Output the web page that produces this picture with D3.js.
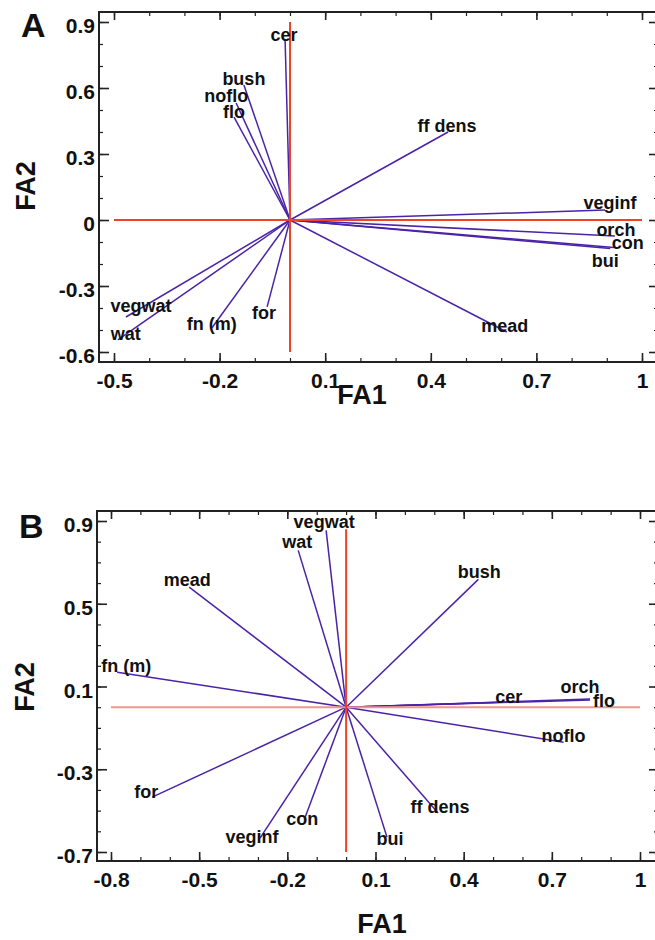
<!DOCTYPE html>
<html>
<head>
<meta charset="utf-8">
<script src="https://cdn.jsdelivr.net/npm/d3@7"></script>
<style>
  body { margin: 0; background: #fff; }
  text { font-family: "Liberation Sans", Arial, sans-serif; font-weight: bold; fill: #111; }
</style>
</head>
<body>
<div id="chart"></div>
<script>
// variables (same order in both panels)
var variables = ["cer", "bush", "noflo", "flo", "ff dens", "veginf", "orch", "con", "bui", "mead", "vegwat", "wat", "fn (m)", "for"];

// panel A loadings
var fa1A = [-0.014, -0.131, -0.153, -0.159, 0.449, 0.895, 0.923, 0.92, 0.91, 0.616, -0.466, -0.489, -0.222, -0.065];
var fa2A = [0.82, 0.614, 0.532, 0.468, 0.40, 0.045, -0.073, -0.125, -0.13, -0.509, -0.441, -0.545, -0.491, -0.395];

// panel B loadings
var fa1B = [0.55, 0.45, 0.74, 0.83, 0.313, -0.293, 0.83, -0.139, 0.139, -0.534, -0.068, -0.163, -0.779, -0.66];
var fa2B = [0.025, 0.618, -0.169, 0.035, -0.512, -0.633, 0.04, -0.531, -0.628, 0.58, 0.855, 0.758, 0.169, -0.435];

// tick labels
var xTicksA = [-0.5, -0.2, 0.1, 0.4, 0.7, 1];
var yTicksA = [-0.6, -0.3, 0, 0.3, 0.6, 0.9];
var xTicksB = [-0.8, -0.5, -0.2, 0.1, 0.4, 0.7, 1];
var yTicksB = [-0.7, -0.3, 0.1, 0.5, 0.9];

var width = 655, height = 940;
var lineColor = "#4b23a8";

var svg = d3.select("#chart").append("svg")
    .attr("width", width)
    .attr("height", height);

var fmt = function(d) { return String(+d.toFixed(1)); };

function minors(lo, hi) {
    return d3.range(Math.round(lo * 10), Math.round(hi * 10) + 1).map(function(i) { return i / 10; });
}

function drawPanel(p) {
    var x = d3.scaleLinear().domain(p.xDom).range(p.xRange);
    var y = d3.scaleLinear().domain(p.yDom).range(p.yRange);
    var g = svg.append("g");
    var box = p.box;

    // ticks (inward) on all four sides
    function axis(gen, tx, ty, vals, size, labels, pad) {
        var a = gen.tickValues(vals).tickSize(size).tickPadding(pad || 0)
            .tickFormat(labels ? fmt : "");
        var ag = g.append("g").attr("transform", "translate(" + tx + "," + ty + ")").call(a);
        ag.select(".domain").remove();
        ag.selectAll("line").attr("stroke", "#222").attr("stroke-width", size < -5 ? 1.6 : 1.2);
        ag.selectAll("text").attr("fill", "#111").style("font-size", "21px")
            .attr("font-family", null);
        return ag;
    }
    var xm = minors(p.xDom[0], p.xDom[1]), ym = minors(p.yDom[0], p.yDom[1]);
    axis(d3.axisBottom(x), 0, box.b, xm, -4, false);
    axis(d3.axisTop(x), 0, box.t, xm, -4, false);
    axis(d3.axisLeft(y), box.l, 0, ym, -4, false);
    axis(d3.axisRight(y), box.r, 0, ym, -4, false);
    axis(d3.axisBottom(x), 0, box.b, p.xTicks, -9, true, 11);
    axis(d3.axisTop(x), 0, box.t, p.xTicks, -8, false);
    var la = axis(d3.axisLeft(y), box.l, 0, p.yTicks, -10, true, 4);
    la.selectAll("text").attr("dy", "0.5em");
    axis(d3.axisRight(y), box.r, 0, p.yTicks, -9, false);

    // frame
    g.append("rect")
        .attr("x", box.l).attr("y", box.t)
        .attr("width", box.r - box.l).attr("height", box.b - box.t)
        .attr("fill", "none").attr("stroke", "#222").attr("stroke-width", 2);

    // vectors
    g.selectAll("line.vec")
        .data(p.fa1.map(function(v, i) { return { name: variables[i], x: v, y: p.fa2[i] }; }))
        .enter().append("line")
        .attr("class", "vec")
        .attr("x1", x(0)).attr("y1", y(0))
        .attr("x2", function(d) { return x(d.x); })
        .attr("y2", function(d) { return y(d.y); })
        .attr("stroke", lineColor)
        .attr("stroke-width", 1.5);

    // red reference axes
    g.append("line")
        .attr("x1", x(p.xDom[0])).attr("x2", x(p.xDom[1]))
        .attr("y1", y(0)).attr("y2", y(0))
        .attr("stroke", p.hColor).attr("stroke-width", 2);
    g.append("line")
        .attr("x1", x(0)).attr("x2", x(0))
        .attr("y1", y(p.vTop)).attr("y2", y(p.yDom[0]))
        .attr("stroke", "#ee4422").attr("stroke-width", 2);

    // labels
    g.selectAll("text.lab")
        .data(p.fa1.map(function(v, i) { return { name: variables[i], x: v, y: p.fa2[i] }; }))
        .enter().append("text")
        .attr("class", "lab")
        .attr("text-anchor", "middle")
        .style("font-size", "18px")
        .attr("x", function(d) { return x(d.x) + p.nudge[d.name][0]; })
        .attr("y", function(d) { return y(d.y) + p.nudge[d.name][1]; })
        .text(function(d) { return d.name; });

    // panel letter and axis titles
    g.append("text").attr("x", p.letterPos[0]).attr("y", p.letterPos[1])
        .style("font-size", "34px").text(p.letter);
    g.append("text").attr("x", p.fa1Pos[0]).attr("y", p.fa1Pos[1])
        .attr("text-anchor", "middle").style("font-size", "27px").text("FA1");
    g.append("text")
        .attr("transform", "translate(" + p.fa2Pos[0] + "," + p.fa2Pos[1] + ") rotate(-90)")
        .attr("text-anchor", "middle").style("font-size", "27px").text("FA2");
}

drawPanel({
    fa1: fa1A, fa2: fa2A,
    xDom: [-0.5, 1], xRange: [114, 642],
    yDom: [-0.6, 0.9], yRange: [352, 22],
    box: { l: 99, r: 658, t: 12, b: 362 },
    xTicks: xTicksA, yTicks: yTicksA,
    vTop: 0.9, hColor: "#ee4422",
    letter: "A", letterPos: [21, 37],
    fa1Pos: [362, 404], fa2Pos: [35, 186],
    nudge: {
        "cer": [-1, 1], "bush": [0, 0], "noflo": [-10, -1], "flo": [0, 1],
        "ff dens": [-1, 0], "veginf": [5, -1], "orch": [1, 0], "con": [14, 1],
        "bui": [-5, 18], "mead": [-2, 0], "vegwat": [15, -5], "wat": [8, 0],
        "fn (m)": [0, 2], "for": [-3, 12]
    }
});

drawPanel({
    fa1: fa1B, fa2: fa2B,
    xDom: [-0.8, 1], xRange: [111, 640],
    yDom: [-0.7, 0.9], yRange: [852, 521],
    box: { l: 97, r: 658, t: 511, b: 861 },
    xTicks: xTicksB, yTicks: yTicksB,
    vTop: 0.86, hColor: "#f0968a",
    letter: "B", letterPos: [19, 538],
    fa1Pos: [382, 933], fa2Pos: [34, 687],
    nudge: {
        "cer": [1, 1], "bush": [1, -1], "noflo": [0, 0], "flo": [14, 7],
        "ff dens": [2, 0], "veginf": [-8, 5], "orch": [-10, -6], "con": [-3, 8],
        "bui": [3, 8], "mead": [-2, -1], "vegwat": [-2, -2], "wat": [-1, -2],
        "fn (m)": [9, 0], "for": [-6, 1]
    }
});
</script>
</body>
</html>
